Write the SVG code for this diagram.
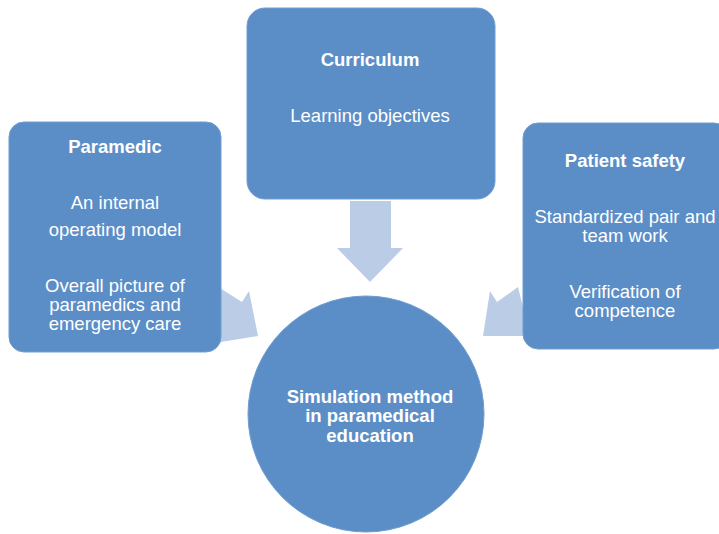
<svg xmlns="http://www.w3.org/2000/svg" width="719" height="534" viewBox="0 0 719 534">
  <style>
    .box { fill: #5b8ec7; stroke: #6f9dd0; stroke-width: 1; }
    .arrow { fill: #bbcce6; }
    text { font-family: "Liberation Sans", Arial, sans-serif; fill: #ffffff; text-anchor: middle; }
    .t { font-size: 18.5px; font-weight: bold; }
    .b { font-size: 18.5px; }
  </style>
  <rect width="719" height="534" fill="#ffffff"/>
  <g id="connectors">
    <polygon class="arrow" points="350,201 391,201 391,248 403,248 370,282 337,248 350,248"/>
    <polygon class="arrow" points="215,285 242,302 249,291 258,336 215,343"/>
    <polygon class="arrow" points="490,291 497,302 518,287 530,336 483,336"/>
  </g>
  <g id="node-curriculum">
    <rect class="box" x="247" y="8" width="248" height="191" rx="18"/>
    <text class="t" x="370" y="66">Curriculum</text>
    <text class="b" x="370" y="122">Learning objectives</text>
  </g>
  <g id="node-paramedic">
    <rect class="box" x="9" y="122" width="212" height="230" rx="15"/>
    <text class="t" x="115" y="153">Paramedic</text>
    <text class="b" x="115" y="209">An internal</text>
    <text class="b" x="115" y="236">operating model</text>
    <text class="b" x="115" y="292">Overall picture of</text>
    <text class="b" x="115" y="311">paramedics and</text>
    <text class="b" x="115" y="330">emergency care</text>
  </g>
  <g id="node-patient-safety">
    <rect class="box" x="523" y="123" width="206" height="226" rx="15"/>
    <text class="t" x="625" y="167">Patient safety</text>
    <text class="b" x="625" y="223">Standardized pair and</text>
    <text class="b" x="625" y="242">team work</text>
    <text class="b" x="625" y="298">Verification of</text>
    <text class="b" x="625" y="317">competence</text>
  </g>
  <g id="node-simulation">
    <circle class="box" cx="366" cy="414" r="118"/>
    <text class="t" x="370" y="403">Simulation method</text>
    <text class="t" x="370" y="422">in paramedical</text>
    <text class="t" x="370" y="442">education</text>
  </g>
</svg>
